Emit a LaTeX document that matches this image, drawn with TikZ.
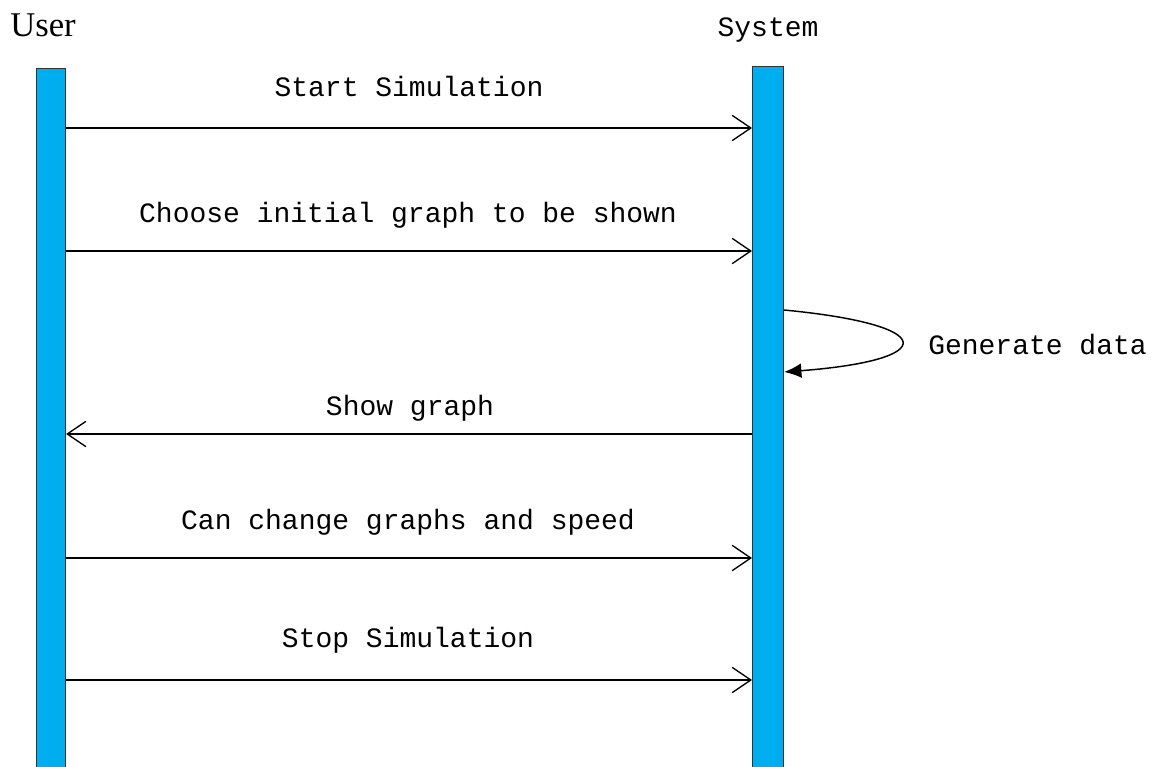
\documentclass[tikz,border=0pt]{standalone}
\usepackage{fontspec}
\newfontfamily\seqfont{Liberation Mono}
\newfontfamily\headfont{Liberation Serif}
\usetikzlibrary{arrows.meta}
\definecolor{barblue}{RGB}{0,174,239}
\begin{document}
\begin{tikzpicture}
    [x=0.75pt, y=-0.75pt,
    bar/.style={draw=black!80, line width=0.8pt, fill=barblue, inner sep=0pt, anchor=north west},
    msg/.style={line width=1.1pt, -{Straight Barb[length=14pt, width=19pt, line width=1pt]}},
    loop/.style={line width=1.1pt, -{Latex[length=13pt, width=11pt]}},
    lbl/.style={font=\seqfont\fontsize{21}{25}\selectfont, inner sep=0pt, anchor=base}]
    \useasboundingbox (0,0) rectangle (1163,767);
    % lifelines
    \node[bar, minimum width=29*0.75pt, minimum height=705*0.75pt] (user) at (36,68) {};
    \node[bar, minimum width=31*0.75pt, minimum height=707*0.75pt] (sys) at (752,66) {};
    \node[anchor=base west, inner sep=0pt, font=\headfont\fontsize{26}{30}\selectfont] (userlbl) at (10,37) {User};
    \node[lbl] (syslbl) at (768,37) {System};
    % rows
    \coordinate (r1) at (0,128);
    \coordinate (r2) at (0,251);
    \coordinate (r3) at (0,310);
    \coordinate (r4) at (0,372);
    \coordinate (r5) at (0,434);
    \coordinate (r6) at (0,558);
    \coordinate (r7) at (0,680);
    % messages
    \node[lbl] (start) at (409,97) {Start Simulation};
    \draw[msg] (user.east |- r1) -- (sys.west |- r1);
    \node[lbl] (choose) at (408,222) {Choose initial graph to be shown};
    \draw[msg] (user.east |- r2) -- (sys.west |- r2);
    \node[lbl, anchor=base west] (gen) at (928,354) {Generate data};
    \draw[loop] (sys.east |- r3) .. controls (940,325) and (940,360) .. (sys.east |- r4);
    \node[lbl] (show) at (410,415) {Show graph};
    \draw[msg] (sys.west |- r5) -- (user.east |- r5);
    \node[lbl] (change) at (408,529) {Can change graphs and speed};
    \draw[msg] (user.east |- r6) -- (sys.west |- r6);
    \node[lbl] (stop) at (408,647) {Stop Simulation};
    \draw[msg] (user.east |- r7) -- (sys.west |- r7);
\end{tikzpicture}
\end{document}
